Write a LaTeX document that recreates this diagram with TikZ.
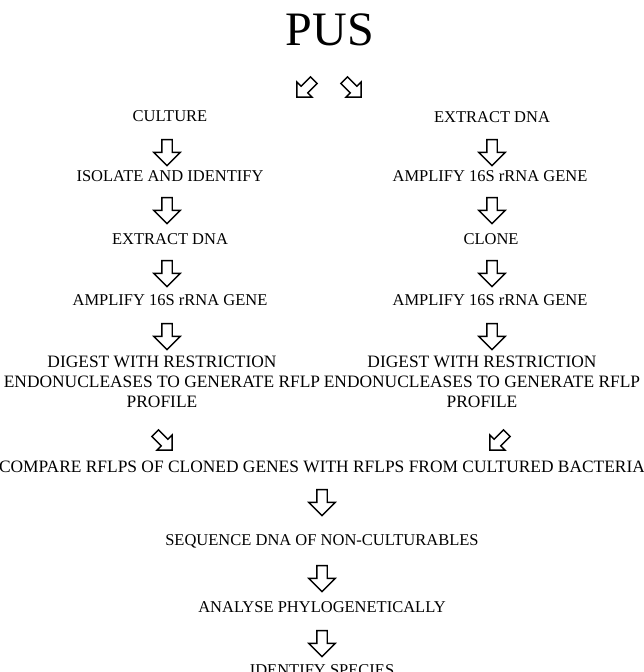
\documentclass[tikz,border=0pt]{standalone}
\usepackage{fontspec}
\setmainfont{Liberation Serif}
\usetikzlibrary{shapes.arrows}

\tikzset{
  step text/.style = {align=center, inner sep=1pt, font=\fontsize{16.5}{20}\selectfont},
  wide text/.style = {step text, font=\fontsize{17.4}{20}\selectfont},
  down arrow/.style = {single arrow, draw, line width=1.4pt, inner xsep=0pt, inner ysep=4.5pt,
    minimum height=26, single arrow head extend=8, single arrow tip angle=90,
    rotate=-90},
  slant arrow/.style = {down arrow, minimum height=24, inner ysep=4pt,
    single arrow head extend=6}
}

\begin{document}
\begin{tikzpicture}[x=1pt, y=-1pt]
  \useasboundingbox (0,0) rectangle (644,672);
  \node (pus) at (330,30) {\fontsize{48}{50}\selectfont PUS};
  \node[slant arrow, rotate=-45] (splitL) at (307,87) {};
  \node[slant arrow, rotate=45] (splitR) at (351,87) {};

  % culture branch
  \node[step text] (culture) at (170,116) {CULTURE};
  \node[down arrow] (a1) at (167,150) {};
  \node[step text] (isolate) at (170,176) {ISOLATE AND IDENTIFY};
  \node[down arrow] (a2) at (167,208) {};
  \node[step text] (extractL) at (170,239) {EXTRACT DNA};
  \node[down arrow] (a3) at (167,271) {};
  \node[step text] (ampL) at (170,300) {AMPLIFY 16S rRNA GENE};
  \node[down arrow] (a4) at (167,334) {};
  \node[wide text] (digestL) at (162,382) {DIGEST WITH RESTRICTION\\ENDONUCLEASES TO GENERATE RFLP\\PROFILE};

  % cloning branch
  \node[step text] (extractR) at (492,117) {EXTRACT DNA};
  \node[down arrow] (b1) at (492,150) {};
  \node[step text] (ampR1) at (490,176) {AMPLIFY 16S rRNA GENE};
  \node[down arrow] (b2) at (492,208) {};
  \node[step text] (clone) at (491,239) {CLONE};
  \node[down arrow] (b3) at (492,271) {};
  \node[step text] (ampR2) at (490,300) {AMPLIFY 16S rRNA GENE};
  \node[down arrow] (b4) at (492,334) {};
  \node[wide text] (digestR) at (482,382) {DIGEST WITH RESTRICTION\\ENDONUCLEASES TO GENERATE RFLP\\PROFILE};

  % merge
  \node[slant arrow, rotate=45] (joinL) at (162,440) {};
  \node[slant arrow, rotate=-45] (joinR) at (500,440) {};
  \node[wide text] (compare) at (322,467) {COMPARE RFLPS OF CLONED GENES WITH RFLPS FROM CULTURED BACTERIA};
  \node[down arrow] (c1) at (322,500) {};
  \node[step text] (sequence) at (322,541) {SEQUENCE DNA OF NON-CULTURABLES};
  \node[down arrow] (c2) at (322,576) {};
  \node[step text] (analyse) at (322,607) {ANALYSE PHYLOGENETICALLY};
  \node[down arrow] (c3) at (322,641) {};
  \node[step text] (species) at (322,670) {IDENTIFY SPECIES};
\end{tikzpicture}
\end{document}
